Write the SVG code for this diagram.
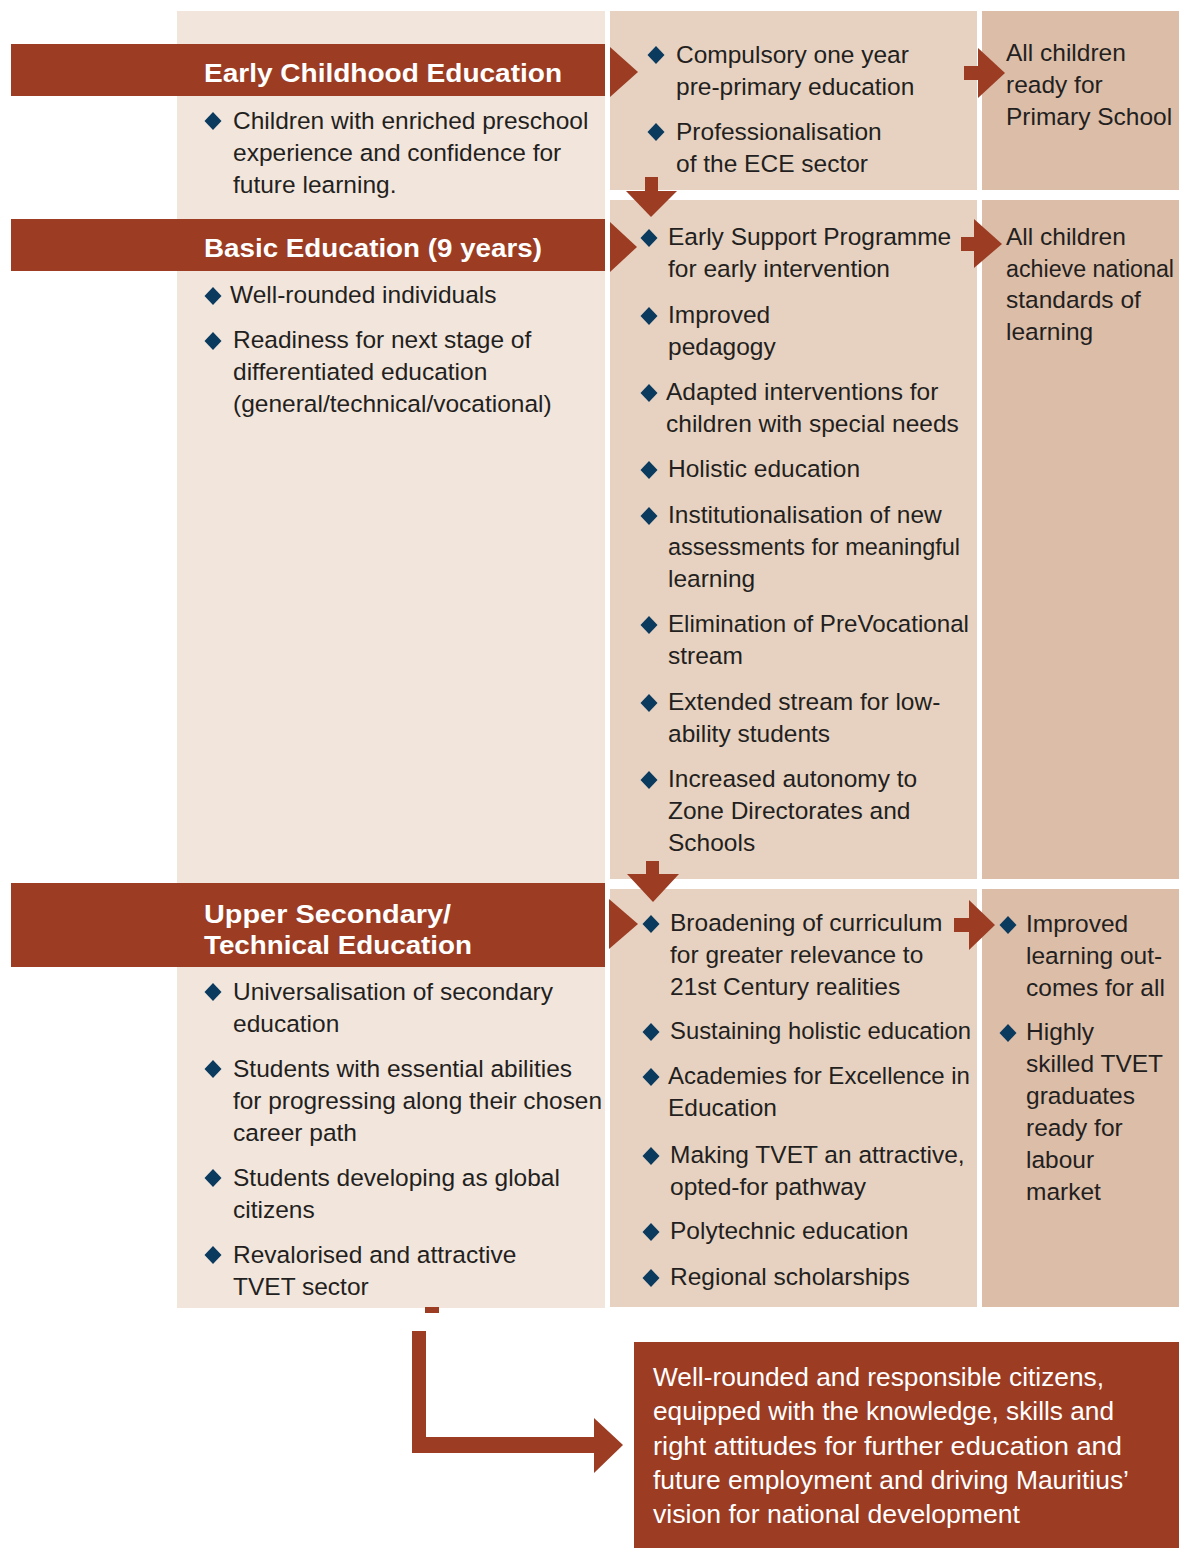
<svg xmlns="http://www.w3.org/2000/svg" xmlns:xlink="http://www.w3.org/1999/xlink" width="1179" height="1548" viewBox="0 0 1179 1548">
<style>
.c1{fill:#f2e5dc}
.c2{fill:#e7d2c1}
.c3{fill:#dcbda8}
.br{fill:#9b3c23}
.t{font-family:"Liberation Sans",Arial,sans-serif;font-size:24.5px;fill:#231f20}
.h{font-family:"Liberation Sans",Arial,sans-serif;font-size:25px;font-weight:bold;fill:#ffffff}
.w{font-family:"Liberation Sans",Arial,sans-serif;font-size:26.5px;fill:#ffffff}
.d{fill:#0b3a5f}
</style>
<defs>
<path id="dia" d="M0,-9 L8.5,0 L0,9 L-8.5,0Z"/>
</defs>
<rect width="1179" height="1548" fill="#ffffff"/>

<!-- background panels -->
<g id="panels">
<rect class="c1" x="177" y="11" width="428" height="1297"/>
<rect class="c2" x="610" y="11" width="367" height="179"/>
<rect class="c2" x="610" y="200" width="367" height="679"/>
<rect class="c2" x="610" y="889" width="367" height="418"/>
<rect class="c3" x="982" y="11" width="197" height="179"/>
<rect class="c3" x="982" y="200" width="197" height="679"/>
<rect class="c3" x="982" y="889" width="197" height="418"/>
</g>

<!-- connectors -->
<g id="connectors">
<rect class="br" x="11" y="44" width="594" height="52"/>
<polygon class="br" points="610,47 638,72 610,97"/>
<rect class="br" x="11" y="219" width="594" height="52"/>
<polygon class="br" points="610,222 637,247 610,272"/>
<rect class="br" x="11" y="883" width="594" height="84"/>
<polygon class="br" points="609,899 638,924 609,949"/>

<rect class="br" x="964" y="66" width="16" height="14"/>
<polygon class="br" points="978,48 1005,73 978,98"/>
<rect class="br" x="961" y="237" width="15" height="14"/>
<polygon class="br" points="974,219 1002,244 974,268"/>
<rect class="br" x="954" y="918" width="16" height="14"/>
<polygon class="br" points="969,900 995,925 969,950"/>

<rect class="br" x="645" y="177" width="13" height="15"/>
<polygon class="br" points="626,191 677,191 651,217"/>
<rect class="br" x="646" y="861" width="13" height="14"/>
<polygon class="br" points="627,874 679,874 653,902"/>

<rect class="br" x="425" y="1307" width="14" height="6"/>
<rect class="br" x="412" y="1331" width="14" height="122"/>
<rect class="br" x="412" y="1437" width="183" height="16"/>
<polygon class="br" points="594,1418 623,1445 594,1473"/>
</g>

<!-- Early Childhood Education -->
<g id="ece">
<text class="h" x="204" y="82" textLength="358" lengthAdjust="spacingAndGlyphs">Early Childhood Education</text>
<use href="#dia" class="d" x="213" y="121"/>
<text class="t" x="233" y="129">Children with enriched preschool</text>
<text class="t" x="233" y="161">experience and confidence for</text>
<text class="t" x="233" y="193">future learning.</text>
</g>
<g id="ece-actions">
<use href="#dia" class="d" x="656" y="55"/>
<text class="t" x="676" y="63">Compulsory one year</text>
<text class="t" x="676" y="95">pre-primary education</text>
<use href="#dia" class="d" x="656" y="132"/>
<text class="t" x="676" y="140">Professionalisation</text>
<text class="t" x="676" y="172">of the ECE sector</text>
</g>
<g id="ece-outcome">
<text class="t" x="1006" y="61">All children</text>
<text class="t" x="1006" y="93">ready for</text>
<text class="t" x="1006" y="125">Primary School</text>
</g>

<!-- Basic Education -->
<g id="basic">
<text class="h" x="204" y="257" textLength="338" lengthAdjust="spacingAndGlyphs">Basic Education (9 years)</text>
<use href="#dia" class="d" x="213" y="296"/>
<text class="t" x="230" y="303">Well-rounded individuals</text>
<use href="#dia" class="d" x="213" y="341"/>
<text class="t" x="233" y="348">Readiness for next stage of</text>
<text class="t" x="233" y="380">differentiated education</text>
<text class="t" x="233" y="412">(general/technical/vocational)</text>
</g>
<g id="basic-actions">
<use href="#dia" class="d" x="649" y="238"/>
<text class="t" x="668" y="245">Early Support Programme</text>
<text class="t" x="668" y="277">for early intervention</text>
<use href="#dia" class="d" x="649" y="316"/>
<text class="t" x="668" y="323">Improved</text>
<text class="t" x="668" y="355">pedagogy</text>
<use href="#dia" class="d" x="649" y="393"/>
<text class="t" x="666" y="400">Adapted interventions for</text>
<text class="t" x="666" y="432">children with special needs</text>
<use href="#dia" class="d" x="649" y="470"/>
<text class="t" x="668" y="477">Holistic education</text>
<use href="#dia" class="d" x="649" y="516"/>
<text class="t" x="668" y="523">Institutionalisation of new</text>
<text class="t" x="668" y="555" textLength="292" lengthAdjust="spacingAndGlyphs">assessments for meaningful</text>
<text class="t" x="668" y="587">learning</text>
<use href="#dia" class="d" x="649" y="625"/>
<text class="t" x="668" y="632" textLength="301" lengthAdjust="spacingAndGlyphs">Elimination of PreVocational</text>
<text class="t" x="668" y="664">stream</text>
<use href="#dia" class="d" x="649" y="703"/>
<text class="t" x="668" y="710">Extended stream for low-</text>
<text class="t" x="668" y="742">ability students</text>
<use href="#dia" class="d" x="649" y="780"/>
<text class="t" x="668" y="787">Increased autonomy to</text>
<text class="t" x="668" y="819">Zone Directorates and</text>
<text class="t" x="668" y="851">Schools</text>
</g>
<g id="basic-outcome">
<text class="t" x="1006" y="245">All children</text>
<text class="t" x="1006" y="277" style="font-size:23.5px" textLength="168" lengthAdjust="spacingAndGlyphs">achieve national</text>
<text class="t" x="1006" y="308">standards of</text>
<text class="t" x="1006" y="340">learning</text>
</g>

<!-- Upper Secondary -->
<g id="upper">
<text class="h" x="204" y="923" textLength="247" lengthAdjust="spacingAndGlyphs">Upper Secondary/</text>
<text class="h" x="204" y="954" textLength="268" lengthAdjust="spacingAndGlyphs">Technical Education</text>
<use href="#dia" class="d" x="213" y="992"/>
<text class="t" x="233" y="1000">Universalisation of secondary</text>
<text class="t" x="233" y="1032">education</text>
<use href="#dia" class="d" x="213" y="1069"/>
<text class="t" x="233" y="1077">Students with essential abilities</text>
<text class="t" x="233" y="1109" textLength="369" lengthAdjust="spacingAndGlyphs">for progressing along their chosen</text>
<text class="t" x="233" y="1141">career path</text>
<use href="#dia" class="d" x="213" y="1178"/>
<text class="t" x="233" y="1186">Students developing as global</text>
<text class="t" x="233" y="1218">citizens</text>
<use href="#dia" class="d" x="213" y="1255"/>
<text class="t" x="233" y="1263">Revalorised and attractive</text>
<text class="t" x="233" y="1295">TVET sector</text>
</g>
<g id="upper-actions">
<use href="#dia" class="d" x="651" y="924"/>
<text class="t" x="670" y="931">Broadening of curriculum</text>
<text class="t" x="670" y="963">for greater relevance to</text>
<text class="t" x="670" y="995">21st Century realities</text>
<use href="#dia" class="d" x="651" y="1032"/>
<text class="t" x="670" y="1039" textLength="301" lengthAdjust="spacingAndGlyphs">Sustaining holistic education</text>
<use href="#dia" class="d" x="651" y="1077"/>
<text class="t" x="668" y="1084" textLength="302" lengthAdjust="spacingAndGlyphs">Academies for Excellence in</text>
<text class="t" x="668" y="1116">Education</text>
<use href="#dia" class="d" x="651" y="1156"/>
<text class="t" x="670" y="1163">Making TVET an attractive,</text>
<text class="t" x="670" y="1195">opted-for pathway</text>
<use href="#dia" class="d" x="651" y="1232"/>
<text class="t" x="670" y="1239">Polytechnic education</text>
<use href="#dia" class="d" x="651" y="1278"/>
<text class="t" x="670" y="1285">Regional scholarships</text>
</g>
<g id="upper-outcome">
<use href="#dia" class="d" x="1008" y="925"/>
<text class="t" x="1026" y="932">Improved</text>
<text class="t" x="1026" y="964">learning out-</text>
<text class="t" x="1026" y="996">comes for all</text>
<use href="#dia" class="d" x="1008" y="1033"/>
<text class="t" x="1026" y="1040">Highly</text>
<text class="t" x="1026" y="1072">skilled TVET</text>
<text class="t" x="1026" y="1104">graduates</text>
<text class="t" x="1026" y="1136">ready for</text>
<text class="t" x="1026" y="1168">labour</text>
<text class="t" x="1026" y="1200">market</text>
</g>

<!-- Final outcome -->
<g id="vision">
<rect class="br" x="634" y="1342" width="545" height="206"/>
<text class="w" x="653" y="1386" textLength="451" lengthAdjust="spacingAndGlyphs">Well-rounded and responsible citizens,</text>
<text class="w" x="653" y="1420" textLength="461" lengthAdjust="spacingAndGlyphs">equipped with the knowledge, skills and</text>
<text class="w" x="653" y="1455" textLength="469" lengthAdjust="spacingAndGlyphs">right attitudes for further education and</text>
<text class="w" x="653" y="1489" textLength="476" lengthAdjust="spacingAndGlyphs">future employment and driving Mauritius’</text>
<text class="w" x="653" y="1523" textLength="367" lengthAdjust="spacingAndGlyphs">vision for national development</text>
</g>
</svg>
